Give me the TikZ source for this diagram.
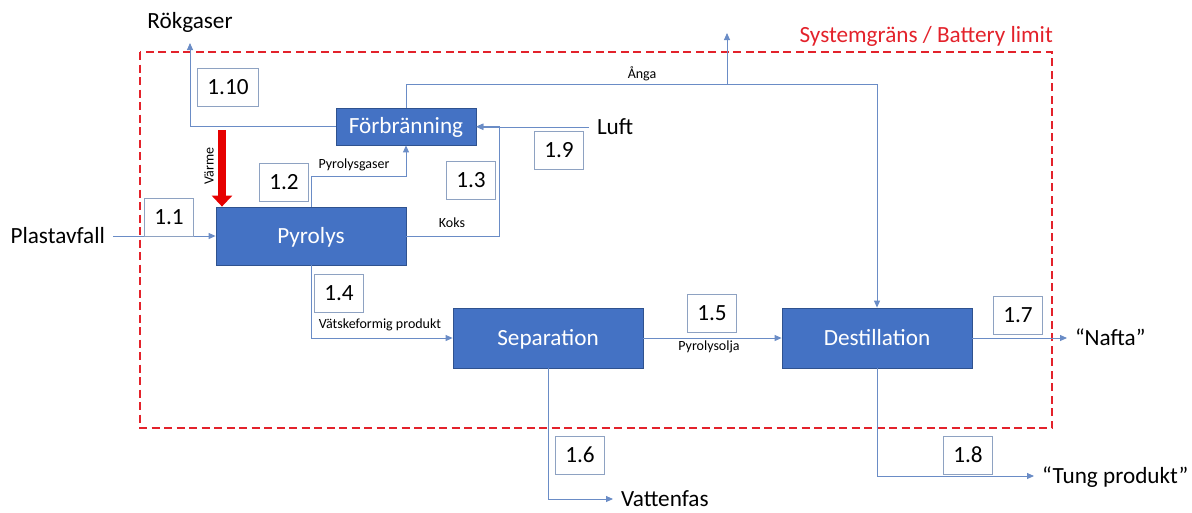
\documentclass[tikz,border=0pt]{standalone}
\usepackage{fontspec}
\setmainfont{Carlito}
\usetikzlibrary{arrows.meta, positioning, calc}

\definecolor{boxblue}{HTML}{4472C4}
\definecolor{boxedge}{HTML}{2F528F}
\definecolor{flowline}{HTML}{6A8CC6}
\definecolor{numedge}{HTML}{8EA2C2}
\definecolor{limitred}{HTML}{E3222B}
\definecolor{heatred}{HTML}{E60000}

\begin{document}
\begin{tikzpicture}[x=1pt, y=-1pt,
    font=\fontsize{23.2}{27}\selectfont,
    unit/.style={draw=boxedge, fill=boxblue, text=white, line width=0.8pt,
        minimum width=190pt, minimum height=60pt, inner sep=0,
        text height=14.7pt, text depth=0pt},
    streamno/.style={draw=numedge, fill=white, line width=0.8pt,
        minimum width=49pt, minimum height=38pt, inner sep=0,
        text height=14.7pt, text depth=0pt},
    flow/.style={draw=flowline, line width=0.9pt,
        -{Triangle[length=7pt, width=6pt]}},
    flowlabel/.style={font=\fontsize{14}{16}\selectfont, inner sep=0},
    endlabel/.style={inner sep=0, outer sep=8pt,
        text height=14.7pt, text depth=0pt},
    limit/.style={draw=limitred, line width=1.6pt, dash pattern=on 8pt off 4.5pt},
    heat/.style={draw=heatred, line width=8pt,
        -{Triangle[length=11pt, width=20pt]}}
]
\useasboundingbox (0,0) rectangle (1192,512);

% --- Battery limit ---
\draw[limit] (140,52) rectangle (1052,428);
\node[anchor=base east, inner sep=0, text=limitred] (limitlabel) at (1053,42) {Systemgräns / Battery limit};

% --- Units ---
\node[unit, minimum width=140pt, minimum height=37pt] (forb) at (406,126.5) {Förbränning};
\node[unit, minimum height=58pt] (pyro) at (311,236) {Pyrolys};
\node[unit] (sep) at (548,338) {Separation};
\node[unit] (dest) at (877,338) {Destillation};

% --- Feeds and products ---
\node[endlabel, anchor=east] (plast) at (113,236) {Plastavfall};
\node[endlabel, anchor=west] (luft) at (589,127) {Luft};
\node[endlabel, anchor=south, outer sep=15pt] (rok) at (190,43) {Rökgaser};
\node[endlabel, anchor=west] (nafta) at (1067,338) {“Nafta”};
\node[endlabel, anchor=west] (tung) at (1034,476) {“Tung produkt”};
\node[endlabel, anchor=west] (vatten) at (613,499) {Vattenfas};
\coordinate (angaout) at (727,33);
\coordinate (heatsrc) at (222,130);

% --- Streams ---
\draw[flow] (plast.east) -- (plast.east -| pyro.west);
\draw[flow] (luft.west) -- (luft.west -| forb.east);
\draw[flow] (forb.west) -| (rok.south);
\draw[flow] (pyro.north) -- ++(0,-30) -| (forb.south);
\draw[flow] (pyro.east) -| ([xshift=23pt]forb.east) -- (forb.east);
\draw[flow] (forb.north) -- ++(0,-23) coordinate (angabend) -| (dest.north);
\draw[flow] (angabend -| angaout) -- (angaout);
\draw[flow] (pyro.south) |- (sep.west);
\draw[flow] (sep.east) -- (dest.west);
\draw[flow] (sep.south) |- (vatten.west);
\draw[flow] (dest.east) -- (nafta.west);
\draw[flow] (dest.south) |- (tung.west);
\draw[heat] (heatsrc) -- (heatsrc |- pyro.north);

% --- Stream labels ---
\node[flowlabel] (lgas) at (354,165) {Pyrolysgaser};
\node[flowlabel] (lkoks) at (452,223) {Koks};
\node[flowlabel] (langa) at (642,74) {Ånga};
\node[flowlabel] (lvatska) at (380,325) {Vätskeformig produkt};
\node[flowlabel] (lolja) at (709,347) {Pyrolysolja};
\node[flowlabel, rotate=90] (lvarme) at (209,166) {Värme};

% --- Stream numbers ---
\node[streamno, minimum width=61pt] (s110) at (228,87) {1.10};
\node[streamno] (s11) at (169,217) {1.1};
\node[streamno] (s12) at (284,182) {1.2};
\node[streamno] (s13) at (471,180) {1.3};
\node[streamno] (s14) at (339,293) {1.4};
\node[streamno] (s15) at (712,313) {1.5};
\node[streamno] (s16) at (580,455) {1.6};
\node[streamno] (s17) at (1018,315) {1.7};
\node[streamno] (s18) at (968,455) {1.8};
\node[streamno] (s19) at (559,150) {1.9};

\end{tikzpicture}
\end{document}
